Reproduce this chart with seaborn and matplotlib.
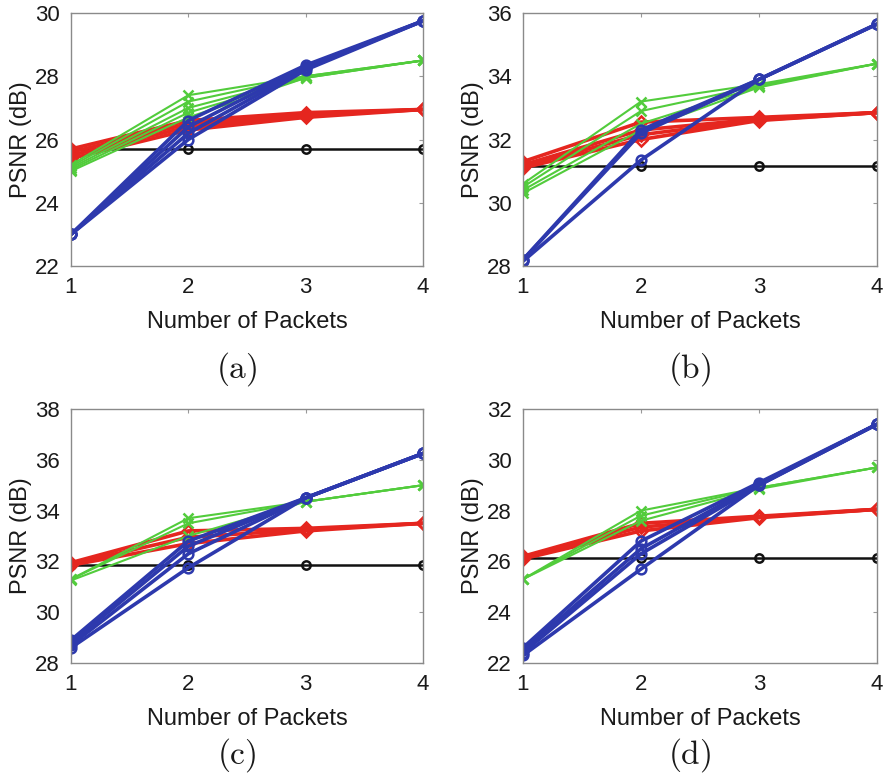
import numpy as np
import pandas as pd
import matplotlib
matplotlib.use('Agg')
import matplotlib.pyplot as plt
import seaborn as sns

PACKETS = [1, 2, 3, 4]

# PSNR (dB) per decoding order; one row per packet ordering
A_BLACK = [[25.7, 25.7, 25.7, 25.7]]
A_RED = [[25.7, 26.6, 26.85, 26.95], [25.6, 26.5, 26.8, 26.95],
         [25.5, 26.4, 26.75, 26.95], [25.4, 26.3, 26.7, 26.95]]
A_GREEN = [[25.2, 27.4, 28.0, 28.5], [25.15, 27.2, 28.0, 28.5],
           [25.1, 27.0, 27.97, 28.5], [25.05, 26.85, 27.95, 28.5],
           [25.0, 26.7, 27.95, 28.5]]
A_BLUE = [[23.0, 26.6, 28.35, 29.75], [23.0, 26.4, 28.3, 29.75],
          [23.0, 26.2, 28.25, 29.75], [23.0, 26.0, 28.2, 29.75]]

B_BLACK = [[31.15, 31.15, 31.15, 31.15]]
B_RED = [[31.3, 32.55, 32.7, 32.85], [31.2, 32.3, 32.65, 32.85],
         [31.15, 32.15, 32.62, 32.85], [31.1, 32.0, 32.6, 32.85]]
B_GREEN = [[30.6, 33.2, 33.75, 34.4], [30.5, 32.9, 33.7, 34.4],
           [30.4, 32.5, 33.68, 34.4], [30.3, 32.3, 33.65, 34.4]]
B_BLUE = [[28.2, 32.3, 33.9, 35.65], [28.2, 32.2, 33.9, 35.65],
          [28.15, 31.35, 33.9, 35.65]]

C_BLACK = [[31.85, 31.85, 31.85, 31.85]]
C_RED = [[31.95, 33.2, 33.3, 33.5], [31.9, 32.95, 33.25, 33.5],
         [31.85, 32.7, 33.2, 33.5]]
C_GREEN = [[31.3, 33.7, 34.35, 35.0], [31.3, 33.5, 34.35, 35.0],
           [31.25, 33.0, 34.35, 35.0]]
C_BLUE = [[28.9, 32.8, 34.5, 36.25], [28.8, 32.6, 34.5, 36.25],
          [28.7, 32.3, 34.5, 36.25], [28.6, 31.75, 34.5, 36.25]]

D_BLACK = [[26.15, 26.15, 26.15, 26.15]]
D_RED = [[26.2, 27.5, 27.78, 28.05], [26.15, 27.35, 27.75, 28.05],
         [26.1, 27.2, 27.72, 28.05]]
D_GREEN = [[25.3, 28.0, 28.9, 29.7], [25.3, 27.8, 28.9, 29.7],
           [25.3, 27.6, 28.85, 29.7]]
D_BLUE = [[22.6, 26.8, 29.1, 31.4], [22.5, 26.5, 29.05, 31.4],
          [22.4, 26.3, 29.0, 31.4], [22.3, 25.7, 29.0, 31.4]]

PANELS = {
    '(a)': dict(black=A_BLACK, red=A_RED, green=A_GREEN, blue=A_BLUE),
    '(b)': dict(black=B_BLACK, red=B_RED, green=B_GREEN, blue=B_BLUE),
    '(c)': dict(black=C_BLACK, red=C_RED, green=C_GREEN, blue=C_BLUE),
    '(d)': dict(black=D_BLACK, red=D_RED, green=D_GREEN, blue=D_BLUE),
}
YLIMS = {'(a)': (22, 30), '(b)': (28, 36), '(c)': (28, 38), '(d)': (22, 32)}
YTICKS = {'(a)': [22, 24, 26, 28, 30], '(b)': [28, 30, 32, 34, 36],
          '(c)': [28, 30, 32, 34, 36, 38], '(d)': [22, 24, 26, 28, 30, 32]}

COLORS = {'black': '#111111', 'red': '#e5261f', 'green': '#52cc3c', 'blue': '#2d39ad'}
MARKERS = {'black': 'o', 'red': 'D', 'green': 'x', 'blue': 'o'}
WIDTHS = {'black': 1.8, 'red': 2.6, 'green': 1.5, 'blue': 2.6}
MSIZE = {'black': 6, 'red': 6.5, 'green': 7, 'blue': 7}

sns.set_style('white')
plt.rcParams['font.family'] = ['Liberation Sans', 'DejaVu Sans']
plt.rcParams['mathtext.fontset'] = 'cm'

fig = plt.figure(figsize=(8.85, 7.77), dpi=100)
W, H = 885, 777
# axes boxes in pixels: left, top, right, bottom
BOXES = {'(a)': (71, 13, 423, 266), '(b)': (523, 13, 877, 266),
         '(c)': (71, 409, 423, 663), '(d)': (523, 409, 877, 663)}
CAPTION = {'(a)': (237, 369), '(b)': (690, 369), '(c)': (237, 755), '(d)': (690, 755)}

for name, groups in PANELS.items():
    l, t, r, b = BOXES[name]
    ax = fig.add_axes([l / W, 1 - b / H, (r - l) / W, (b - t) / H])

    rows = []
    for scheme, lines in groups.items():
        for k, vals in enumerate(lines):
            for x, y in zip(PACKETS, vals):
                rows.append({'packets': x, 'psnr': y, 'scheme': scheme, 'order': k})
    df = pd.DataFrame(rows)

    for scheme in ['black', 'red', 'green', 'blue']:
        sub = df[df['scheme'] == scheme]
        sns.lineplot(data=sub, x='packets', y='psnr', units='order',
                     estimator=None, color=COLORS[scheme], ax=ax,
                     linewidth=WIDTHS[scheme], marker=MARKERS[scheme],
                     markersize=MSIZE[scheme], markerfacecolor='none',
                     markeredgecolor=COLORS[scheme], markeredgewidth=1.8,
                     legend=False)

    ax.set_xlim(1, 4)
    ax.set_ylim(*YLIMS[name])
    ax.set_xticks(PACKETS)
    ax.set_yticks(YTICKS[name])
    ax.tick_params(direction='in', length=3, color='#999999',
                   labelsize=16, labelcolor='#1a1a1a', top=True, right=True)
    ax.tick_params(axis='x', pad=8)
    ax.tick_params(axis='y', pad=8)
    for sp in ax.spines.values():
        sp.set_color('#8a8a8a')
        sp.set_linewidth(1.0)
    ax.set_xlabel('Number of Packets', fontsize=17, color='#1a1a1a', labelpad=9)
    ax.set_ylabel('PSNR (dB)', fontsize=17, color='#1a1a1a', labelpad=2)

    cx, cy = CAPTION[name]
    fig.text(cx / W, 1 - cy / H, r'$\mathrm{' + name + '}$', fontsize=24,
             ha='center', va='center', color='#1a1a1a')

fig.savefig('out.png', dpi=100)
